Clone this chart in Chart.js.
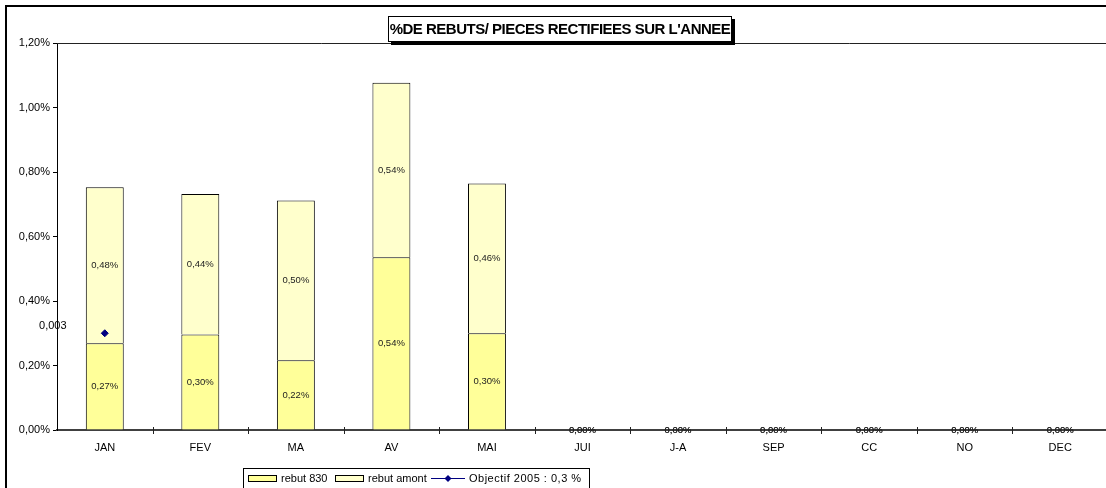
<!DOCTYPE html>
<html>
<head>
<meta charset="utf-8">
<script src="https://cdn.jsdelivr.net/npm/chart.js@4.4.1/dist/chart.umd.min.js"></script>
<style>
  html, body { margin: 0; padding: 0; background: #fff; overflow: hidden; width: 1106px; height: 488px; }
  #wrap { position: absolute; left: 0; top: 0; width: 1113px; height: 488px; }
</style>
</head>
<body>
<div id="wrap"><canvas id="c" width="1113" height="488"></canvas></div>
<script>
// Monthly scrap rates (in %) for rectified parts
const months = ['JAN', 'FEV', 'MA', 'AV', 'MAI', 'JUI', 'J-A', 'SEP', 'CC', 'NO', 'DEC'];
const rebut830 = [0.269, 0.296, 0.216, 0.536, 0.300, 0, 0, 0, 0, 0, 0];
const rebutAmont = [0.484, 0.436, 0.496, 0.541, 0.464, 0, 0, 0, 0, 0, 0];
const objectif = [0.3, null, null, null, null, null, null, null, null, null, null];
const yMin = 0, yMax = 1.2, yStep = 0.2;

const titleText = "%DE REBUTS/ PIECES RECTIFIEES SUR L'ANNEE";
const legendLabels = ['rebut 830', 'rebut amont', 'Objectif 2005 : 0,3 %'];

const FONT = '"Liberation Sans", Arial, sans-serif';
const C830 = '#FFFF99';
const CAMONT = '#FFFFCC';
const COBJ = '#000080';

const pct = v => v.toFixed(2).replace('.', ',') + '%';

const decorations = {
  id: 'decorations',
  afterDraw(chart) {
    const ctx = chart.ctx;
    const area = chart.chartArea;
    ctx.save();

    // outer frame (left and top edges)
    ctx.strokeStyle = '#000';
    ctx.lineWidth = 2;
    ctx.beginPath();
    ctx.moveTo(6, chart.height + 2);
    ctx.lineTo(6, 6);
    ctx.lineTo(chart.width + 2, 6);
    ctx.stroke();

    // plot area top border
    ctx.strokeStyle = '#222';
    ctx.lineWidth = 1;
    ctx.beginPath();
    ctx.moveTo(area.left, area.top + 0.5);
    ctx.lineTo(chart.width + 2, area.top + 0.5);
    ctx.stroke();

    // category separator ticks crossing the x axis
    const n = months.length;
    const w = (area.right - area.left) / n;
    ctx.strokeStyle = '#222';
    ctx.lineWidth = 1;
    ctx.beginPath();
    for (let k = 1; k < n; k++) {
      const x = Math.round(area.left + k * w) + 0.5;
      ctx.moveTo(x, area.bottom - 3);
      ctx.lineTo(x, area.bottom + 4);
    }
    ctx.stroke();

    // value labels on bars
    ctx.fillStyle = '#222';
    ctx.font = '9.5px ' + FONT;
    ctx.textAlign = 'center';
    ctx.textBaseline = 'middle';
    [0, 1].forEach(di => {
      const meta = chart.getDatasetMeta(di);
      const data = chart.data.datasets[di].data;
      meta.data.forEach((el, i) => {
        const y = (el.y + el.base) / 2;
        ctx.fillText(pct(data[i]), el.x, y);
      });
    });

    // objective point label
    const lm = chart.getDatasetMeta(2);
    ctx.fillStyle = '#000';
    ctx.font = '11px ' + FONT;
    lm.data.forEach((pt, i) => {
      const v = objectif[i];
      if (v === null || v === undefined) return;
      const txt = String(+(v / 100).toFixed(4)).replace('.', ',');
      ctx.fillText(txt, pt.x - 52, pt.y - 7);
    });

    // title box with shadow
    const tx0 = 388, ty0 = 16, tw = 344, th = 26;
    ctx.fillStyle = '#000';
    ctx.fillRect(tx0 + 3, ty0 + 3, tw, th);
    ctx.fillStyle = '#fff';
    ctx.fillRect(tx0, ty0, tw, th);
    ctx.strokeStyle = '#000';
    ctx.lineWidth = 1;
    ctx.strokeRect(tx0 + 0.5, ty0 + 0.5, tw - 1, th - 1);
    ctx.fillStyle = '#000';
    ctx.font = 'bold 15px ' + FONT;
    if ('letterSpacing' in ctx) ctx.letterSpacing = '-0.5px';
    ctx.textAlign = 'center';
    ctx.textBaseline = 'middle';
    ctx.fillText(titleText, tx0 + tw / 2, ty0 + th / 2 + 1);
    if ('letterSpacing' in ctx) ctx.letterSpacing = '0px';

    // legend
    const lx0 = 243, ly0 = 468, lw = 347, lh = 24;
    ctx.fillStyle = '#fff';
    ctx.fillRect(lx0, ly0, lw, lh);
    ctx.strokeStyle = '#000';
    ctx.strokeRect(lx0 + 0.5, ly0 + 0.5, lw - 1, lh - 1);
    const cy = ly0 + 10;
    ctx.font = '11px ' + FONT;
    ctx.textAlign = 'left';
    ctx.textBaseline = 'middle';
    const swatchX = [248, 335];
    [[C830, legendLabels[0]], [CAMONT, legendLabels[1]]].forEach(([col, lab], k) => {
      const x = swatchX[k];
      ctx.fillStyle = col;
      ctx.fillRect(x, cy - 3, 29, 7);
      ctx.strokeStyle = '#000';
      ctx.strokeRect(x + 0.5, cy - 2.5, 28, 6);
      ctx.fillStyle = '#000';
      ctx.fillText(lab, x + 33, cy + 1);
    });
    const x = 431;
    ctx.strokeStyle = COBJ;
    ctx.lineWidth = 1;
    ctx.beginPath();
    ctx.moveTo(x, cy + 0.5);
    ctx.lineTo(x + 34, cy + 0.5);
    ctx.stroke();
    ctx.fillStyle = COBJ;
    ctx.beginPath();
    const dx = x + 17;
    ctx.moveTo(dx, cy - 3);
    ctx.lineTo(dx + 3.5, cy + 0.5);
    ctx.lineTo(dx, cy + 4);
    ctx.lineTo(dx - 3.5, cy + 0.5);
    ctx.closePath();
    ctx.fill();
    ctx.fillStyle = '#000';
    if ('letterSpacing' in ctx) ctx.letterSpacing = '0.5px';
    ctx.fillText(legendLabels[2], x + 38, cy + 1);
    if ('letterSpacing' in ctx) ctx.letterSpacing = '0px';

    ctx.restore();
  }
};

new Chart(document.getElementById('c'), {
  data: {
    labels: months,
    datasets: [
      { type: 'bar', label: legendLabels[0], data: rebut830, backgroundColor: C830,
        borderColor: '#000', borderWidth: 1, barPercentage: 0.397, categoryPercentage: 1, stack: 's', order: 2 },
      { type: 'bar', label: legendLabels[1], data: rebutAmont, backgroundColor: CAMONT,
        borderColor: '#000', borderWidth: 1, barPercentage: 0.397, categoryPercentage: 1, stack: 's', order: 2 },
      { type: 'line', label: legendLabels[2], data: objectif, borderColor: COBJ, backgroundColor: COBJ,
        showLine: false, pointStyle: 'rectRot', pointRadius: 3.5, pointBorderWidth: 1, stack: 'obj', order: 0 }
    ]
  },
  options: {
    responsive: false,
    animation: false,
    devicePixelRatio: 1,
    layout: { padding: { top: 43, left: 0, right: 0, bottom: 0 } },
    plugins: { legend: { display: false }, title: { display: false }, tooltip: { enabled: false } },
    scales: {
      x: {
        stacked: true,
        offset: true,
        grid: { display: false, drawTicks: false },
        border: { color: '#404040', width: 2 },
        ticks: { color: '#000', font: { family: FONT, size: 11 }, padding: 11, maxRotation: 0, autoSkip: false },
        afterFit(s) { s.height = 58; }
      },
      y: {
        stacked: true,
        min: yMin,
        max: yMax,
        grid: { drawOnChartArea: false, drawTicks: true, tickLength: 4, color: '#000' },
        border: { color: '#000', width: 1 },
        ticks: { stepSize: yStep, color: '#000', font: { family: FONT, size: 11 }, padding: 3, callback: v => pct(v) },
        afterFit(s) { s.width = 57; }
      }
    }
  },
  plugins: [decorations]
});
</script>
</body>
</html>
